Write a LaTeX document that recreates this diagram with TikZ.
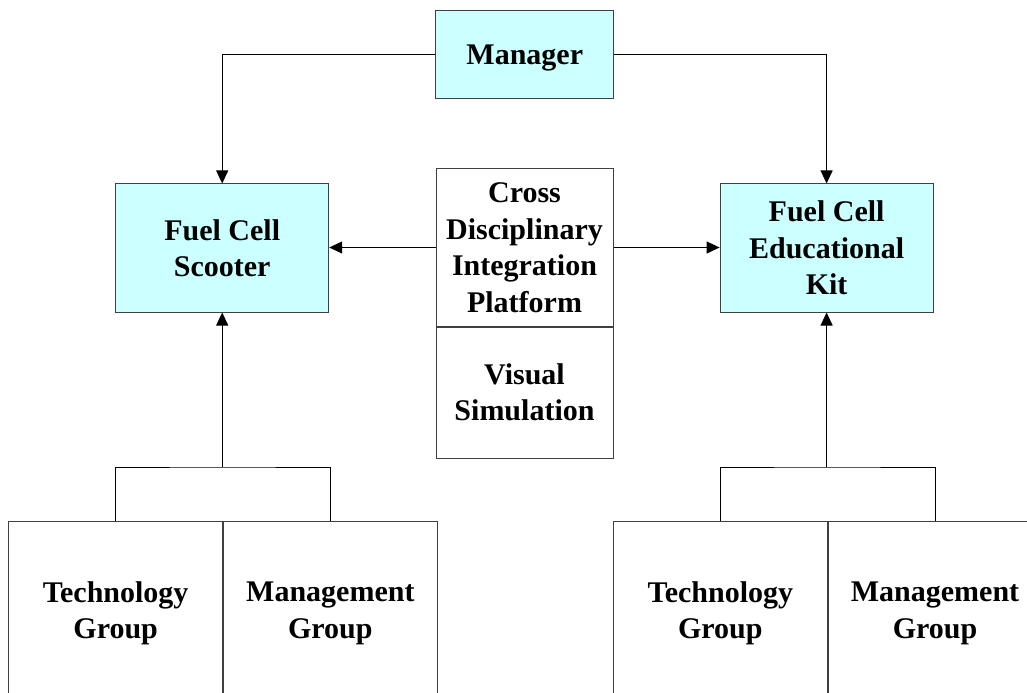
\documentclass[tikz,border=0pt]{standalone}
\usepackage{fontspec}
\setmainfont{Liberation Serif}
\usetikzlibrary{arrows.meta}
\definecolor{boxcyan}{HTML}{CCFFFF}
\definecolor{edgegray}{HTML}{404040}
\begin{document}
\begin{tikzpicture}[x=1bp,y=-1bp,
  box/.style={draw=edgegray, line width=1bp, inner sep=0pt, align=center,
    font=\fontsize{30bp}{36.5bp}\selectfont\bfseries},
  cbox/.style={box, fill=boxcyan},
  conn/.style={line width=1bp, draw=black},
  arr/.style={conn, -{Triangle[length=13bp,width=12bp]}}]
\useasboundingbox (0,0) rectangle (1027,693);
\clip (0,0) rectangle (1027,693);
% top boxes
\node[cbox, minimum width=178bp, minimum height=88bp, text depth=0pt] (mgr) at (524.8,55) {Manager};
\node[cbox, minimum width=213bp, minimum height=128bp] (sc) at (222.2,248) {Fuel Cell\\Scooter};
\node[cbox, minimum width=213bp, minimum height=128bp] (kit) at (826.6,248) {Fuel Cell\\Educational\\Kit};
% central box
\node[box, minimum width=177bp, minimum height=157bp] (cdi) at (524.5,247.5) {Cross\\Disciplinary\\Integration\\Platform};
\node[box, minimum width=177bp, minimum height=131bp, anchor=north] (vis) at (cdi.south) {Visual\\Simulation};
% bottom groups
\node[box, minimum width=213.7bp, minimum height=184bp, anchor=north west] (tg1) at (8.3,521) {Technology\\Group};
\node[box, minimum width=213.7bp, minimum height=184bp, anchor=north west] (mg1) at (tg1.north east) {Management\\Group};
\node[box, minimum width=213.7bp, minimum height=184bp, anchor=north west] (tg2) at (613,521) {Technology\\Group};
\node[box, minimum width=213.7bp, minimum height=184bp, anchor=north west] (mg2) at (tg2.north east) {Management\\Group};
% connectors
\draw[arr] (mgr.west) -| (sc.north);
\draw[arr] (mgr.east) -| (kit.north);
\draw[arr] (cdi.west) -- (cdi.west -| sc.east);
\draw[arr] (cdi.east) -- (cdi.east -| kit.west);
\coordinate (b1) at (sc.south |- 0,467);
\coordinate (b2) at (kit.south |- 0,467);
\draw[conn] (tg1.north) |- (b1) -| (mg1.north);
\draw[conn] (tg2.north) |- (b2) -| (mg2.north);
\draw[arr] (b1) -- (sc.south);
\draw[arr] (b2) -- (kit.south);
\end{tikzpicture}
\end{document}
